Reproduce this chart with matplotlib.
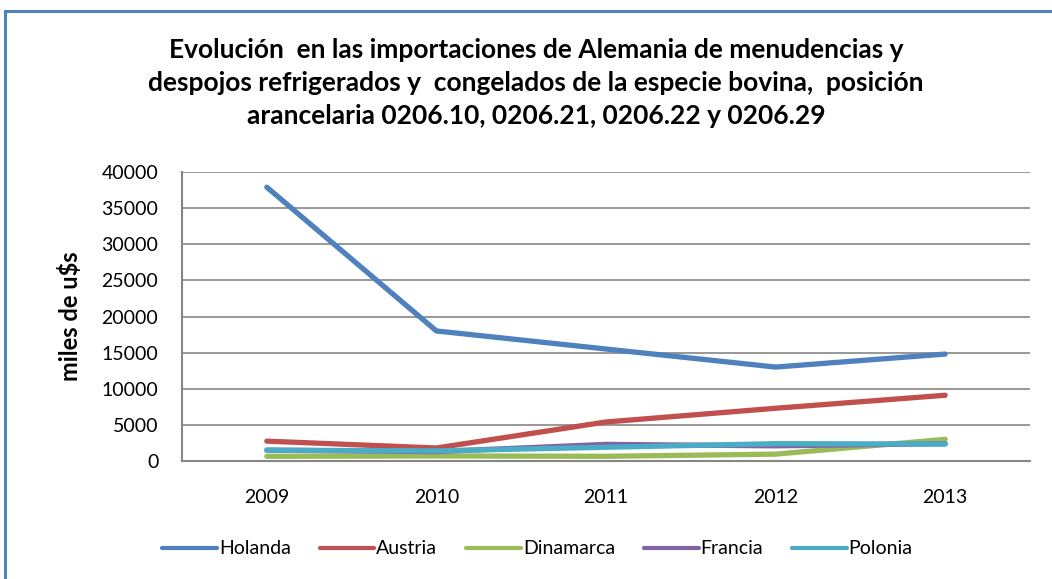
import matplotlib.pyplot as plt
from matplotlib.patches import Rectangle

years = ["2009", "2010", "2011", "2012", "2013"]
holanda = [37900, 18000, 15500, 13000, 14800]
austria = [2750, 1800, 5400, 7300, 9100]
dinamarca = [650, 700, 650, 950, 3000]
francia = [1500, 1300, 2300, 2100, 2400]
polonia = [1500, 1400, 1900, 2400, 2350]

series = [("Holanda", holanda, "#4F81BD"),
          ("Austria", austria, "#C0504D"),
          ("Dinamarca", dinamarca, "#9BBB59"),
          ("Francia", francia, "#8064A2"),
          ("Polonia", polonia, "#4BACC6")]

plt.rcParams['font.family'] = ['Lato', 'DejaVu Sans']

fig = plt.figure(figsize=(10.52, 5.79), dpi=100)
# marco del grafico
fig.patches.append(Rectangle((5 / 1052, -0.05), 1.2, 1 - 11 / 579 + 0.05,
                             transform=fig.transFigure, fill=False,
                             edgecolor="#4F81BD", linewidth=2.2))

ax = fig.add_axes([182 / 1052, 1 - 461 / 579, (1030 - 182) / 1052, (461 - 172) / 579])
x = range(len(years))
for name, vals, col in series:
    ax.plot(x, vals, color=col, linewidth=3.8, label=name, solid_capstyle="round")

ax.set_xlim(-0.5, len(years) - 0.5)
ax.set_ylim(0, 40000)
ax.set_yticks(range(0, 40001, 5000))
ax.set_xticks(list(x))
ax.set_xticklabels(years)
ax.grid(axis="y", color="#868686", linewidth=1.2)
ax.set_axisbelow(True)
for s in ["top", "right"]:
    ax.spines[s].set_visible(False)
for s in ["left", "bottom"]:
    ax.spines[s].set_color("#868686")
    ax.spines[s].set_linewidth(1.5)
ax.tick_params(axis="both", length=0, labelsize=14, pad=17)
ax.tick_params(axis="x", pad=20)
ax.set_ylabel("miles de u$s", fontsize=17, fontweight="bold", labelpad=14)

fig.text(536 / 1052, 1 - 83 / 579,
         "Evolución  en las importaciones de Alemania de menudencias y\n"
         "despojos refrigerados y  congelados de la especie bovina,  posición\n"
         "arancelaria 0206.10, 0206.21, 0206.22 y 0206.29",
         ha="center", va="center", fontsize=19, fontweight="bold", linespacing=1.45)

leg = ax.legend(loc="center", bbox_to_anchor=(0.511, 1 - 549 / 579), bbox_transform=fig.transFigure,
                ncol=5, frameon=False, fontsize=14, handlelength=2.8, handletextpad=0.1,
                columnspacing=1.5)
for h in leg.get_lines():
    h.set_linewidth(3)

fig.savefig("out.png", dpi=100)
